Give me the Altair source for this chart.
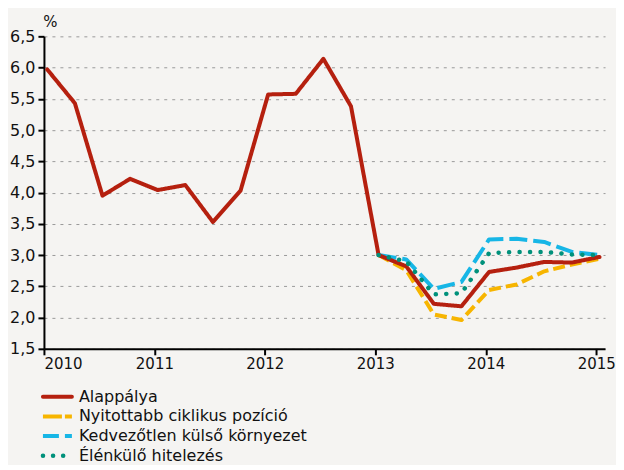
import altair as alt
import pandas as pd

series_names = ["Alappálya", "Nyitottabb ciklikus pozíció", "Kedvezőtlen külső környezet", "Élénkülő hitelezés"]

base_x = [2010 + 0.25 * i + 0.03 for i in range(21)]
alap = [5.97, 5.43, 3.95, 4.22, 4.04, 4.12, 3.53, 4.03, 5.57, 5.58, 6.14, 5.38,
        3.0, 2.82, 2.22, 2.18, 2.73, 2.80, 2.89, 2.88, 2.97]
scen_x = base_x[12:]
nyit = [3.0, 2.76, 2.05, 1.96, 2.44, 2.53, 2.74, 2.85, 2.94]
kedv = [3.0, 2.93, 2.46, 2.57, 3.25, 3.26, 3.21, 3.05, 3.0]
elen = [3.0, 2.90, 2.37, 2.39, 3.03, 3.05, 3.05, 3.01, 3.0]

rows = []
for x, v in zip(base_x, alap):
    rows.append({"x": x, "v": v, "s": series_names[0]})
for name, vals in zip(series_names[1:], [nyit, kedv, elen]):
    for x, v in zip(scen_x, vals):
        rows.append({"x": x, "v": v, "s": name})
df = pd.DataFrame(rows)

colors = ["#b5200f", "#f7b500", "#17b6e6", "#00917b"]
line_dash = [[1, 0], [12, 5], [18, 6], [0.1, 10.4]]
legend_dash = [[1, 0], [19, 3], [16, 6], [0.1, 10]]
caps = ["round", "butt", "butt", "round"]
widths = [4, 4, 4, 4.5]
draw_order = [1, 2, 0, 3]

legend_df = pd.DataFrame({"s": series_names, "row": list(range(len(series_names)))})

FONT = "DejaVu Sans"

x_enc = alt.X("x:Q", scale=alt.Scale(domain=[2010, 2015.08], nice=False, zero=False),
              axis=alt.Axis(values=[2010, 2011, 2012, 2013, 2014, 2015], format="d", title=None,
                            grid=False, domain=True, domainColor="#000", domainWidth=2,
                            tickColor="#000", tickWidth=2, tickSize=6,
                            labelFontSize=15, labelColor="#111", labelFont=FONT, labelPadding=2))
y_enc = alt.Y("v:Q", scale=alt.Scale(domain=[1.5, 6.5], nice=False, zero=False),
              axis=alt.Axis(values=[1.5 + 0.5 * i for i in range(11)],
                            labelExpr="replace(format(datum.value, '.1f'), '.', ',')",
                            title="%", titleAngle=0, titleX=6, titleY=-10, titleAlign="center",
                            titleBaseline="alphabetic", titleFontSize=15, titleFontWeight="normal",
                            titleFont=FONT, titleColor="#111",
                            grid=True, gridColor="#9a9a9a", gridDash=[3, 5], gridWidth=1,
                            domain=True, domainColor="#000", domainWidth=2,
                            tickColor="#000", tickWidth=2, tickSize=6,
                            labelFontSize=16, labelColor="#111", labelFont=FONT, labelPadding=3))

layers = []
for i in draw_order:
    layers.append(
        alt.Chart(df).transform_filter(alt.datum.s == series_names[i])
        .mark_line(strokeWidth=widths[i], strokeCap=caps[i], strokeJoin="round",
                   color=colors[i], strokeDash=line_dash[i])
        .encode(x=x_enc, y=y_enc)
    )

leg_base = alt.Chart(legend_df).transform_calculate(ypx="361 + 19.7 * datum.row")
for i in range(len(series_names)):
    layers.append(
        leg_base.transform_filter(alt.datum.s == series_names[i])
        .mark_rule(strokeWidth=widths[i], strokeCap=caps[i], color=colors[i],
                   strokeDash=legend_dash[i])
        .encode(x=alt.value(-1), x2=alt.value(28),
                y=alt.Y("ypx:Q", scale=None, axis=None))
    )
layers.append(
    leg_base.mark_text(align="left", baseline="middle", fontSize=16, font=FONT, color="#111")
    .encode(x=alt.value(35), y=alt.Y("ypx:Q", scale=None, axis=None), text="s:N")
)

chart = alt.layer(*layers).properties(
    width=562, height=313, background="#f5f4f2",
    padding={"left": 1, "top": 6, "right": 0, "bottom": 0}
).configure_view(stroke=None)

chart.save("out.html", embed_options={"renderer": "svg", "actions": False})
